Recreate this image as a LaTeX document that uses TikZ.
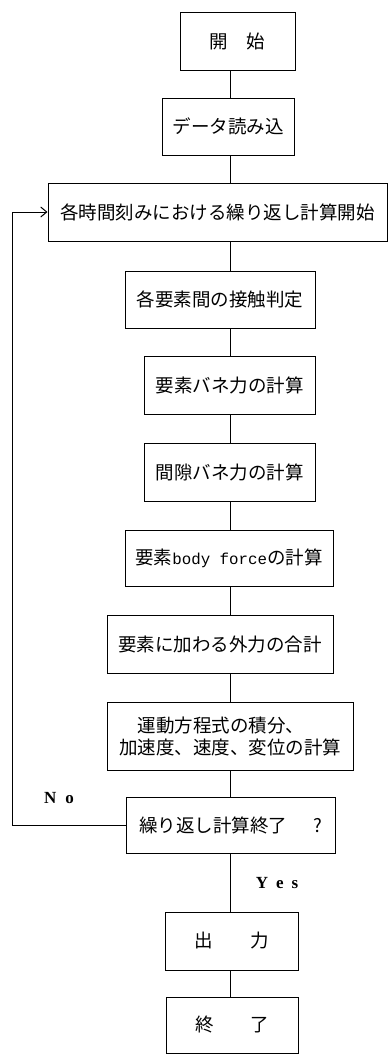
\documentclass[tikz,border=0pt]{standalone}
\usepackage{fontspec}
\setmainfont{Noto Sans CJK JP}
\newfontfamily\monofnt{Liberation Mono}
\newfontfamily\latfnt{Liberation Serif}
\usetikzlibrary{arrows.meta}
\begin{document}
\begin{tikzpicture}[x=1pt,y=-1pt,
  box/.style={draw,line width=1pt,inner sep=0pt,align=center,
    font=\fontsize{18.5}{22}\selectfont},
  conn/.style={line width=0.8pt},
  lab/.style={font=\latfnt\bfseries\fontsize{17}{19}\selectfont,inner sep=0pt}]
\useasboundingbox (0,0) rectangle (388,1055);
\coordinate (spine) at (230,0);
\coordinate (fb) at (12,0);
\node[box,minimum width=115pt,minimum height=58pt] (b1) at (237.5,41) {開　始};
\node[box,minimum width=132pt,minimum height=57pt] (b2) at (228,126.5) {データ読み込};
\node[box,minimum width=339pt,minimum height=58pt] (b3) at (217.5,212) {各時間刻みにおける繰り返し計算開始};
\node[box,minimum width=190pt,minimum height=57pt] (b4) at (220,299.5) {各要素間の接触判定};
\node[box,minimum width=171pt,minimum height=58pt] (b5) at (229.5,385) {要素バネ力の計算};
\node[box,minimum width=171pt,minimum height=58pt] (b6) at (229.5,472) {間隙バネ力の計算};
\node[box,minimum width=208pt,minimum height=56pt] (b7) at (229,558) {要素{\monofnt\fontsize{15.8}{22}\selectfont body force}の計算};
\node[box,minimum width=226pt,minimum height=58pt] (b8) at (220,644) {要素に加わる外力の合計};
\node[box,minimum width=246pt,minimum height=68pt,align=left] (b9) at (230,736) {　運動方程式の積分、\\加速度、速度、変位の計算};
\node[box,minimum width=209pt,minimum height=56pt] (b10) at (230.5,825) {繰り返し計算終了\hspace{26pt}?};
\node[box,minimum width=133pt,minimum height=58pt] (b11) at (231.5,941) {出　　力};
\node[box,minimum width=132pt,minimum height=56pt] (b12) at (232,1025) {終　　了};
\node[lab] (no) at (59,798) {N\hspace{9pt}o};
\node[lab] (yes) at (277,883) {Y\hspace{8pt}e\hspace{8pt}s};
\foreach \a/\b in {b1/b2,b2/b3,b3/b4,b4/b5,b5/b6,b6/b7,b7/b8,b8/b9,b9/b10,b10/b11,b11/b12}
  \draw[conn] (\a.south -| spine) -- (\b.north -| spine);
\draw[conn,-{Straight Barb[length=6pt,width=10pt,line width=1pt]}] (b10.west) -- (b10.west -| fb) -- (b3.west -| fb) -- (b3.west);
\end{tikzpicture}
\end{document}
